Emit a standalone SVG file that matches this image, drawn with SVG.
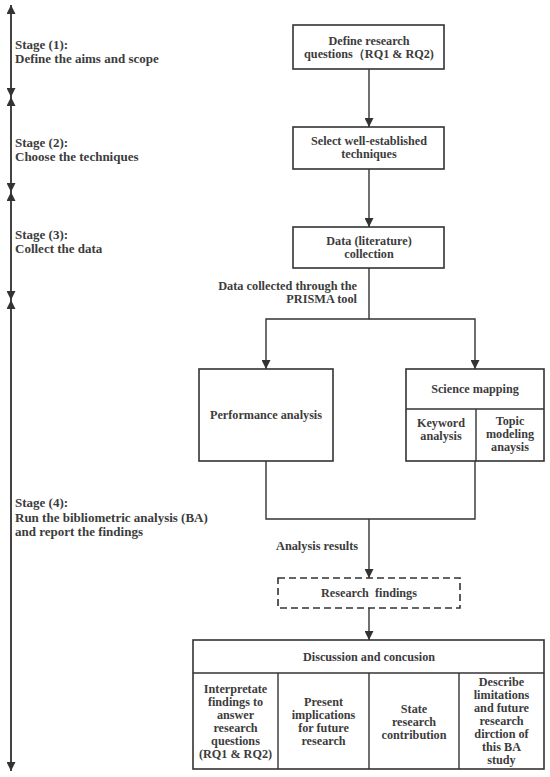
<svg xmlns="http://www.w3.org/2000/svg" width="550" height="777" viewBox="0 0 550 777">
<defs>
<marker id="ah" viewBox="0 0 10 10" refX="10" refY="5" markerWidth="9" markerHeight="9" markerUnits="userSpaceOnUse" orient="auto-start-reverse">
<path d="M0,0 L10,5 L0,10 Z" fill="#333"/>
</marker>
</defs>
<style>
text{font-family:"Liberation Serif","Times New Roman",serif;font-weight:bold;fill:#3c3c3c}
.s{font-size:13px}
.n{font-size:12.2px;text-anchor:middle}
.l{font-size:12.3px}
.b{fill:#fff;stroke:#333;stroke-width:1.6}
.c{fill:none;stroke:#333;stroke-width:1.4}
</style>
<rect width="550" height="777" fill="#fff"/>
<g id="connectors">
<line class="c" x1="11" y1="97" x2="11" y2="5" marker-end="url(#ah)"/>
<line class="c" x1="11" y1="5" x2="11" y2="97" marker-end="url(#ah)"/>
<line class="c" x1="11" y1="192" x2="11" y2="97" marker-end="url(#ah)"/>
<line class="c" x1="11" y1="97" x2="11" y2="192" marker-end="url(#ah)"/>
<line class="c" x1="11" y1="300" x2="11" y2="192" marker-end="url(#ah)"/>
<line class="c" x1="11" y1="192" x2="11" y2="300" marker-end="url(#ah)"/>
<line class="c" x1="11" y1="771" x2="11" y2="300" marker-end="url(#ah)"/>
<line class="c" x1="11" y1="300" x2="11" y2="771" marker-end="url(#ah)"/>
<line class="c" x1="369" y1="69" x2="369" y2="127" marker-end="url(#ah)"/>
<line class="c" x1="369" y1="169" x2="369" y2="227" marker-end="url(#ah)"/>
<polyline class="c" points="369,268 369,319 266,319 266,369" marker-end="url(#ah)"/>
<polyline class="c" points="369,319 475,319 475,369" marker-end="url(#ah)"/>
<polyline class="c" points="266,461 266,519 475,519 475,461"/>
<line class="c" x1="369" y1="519" x2="369" y2="578" marker-end="url(#ah)"/>
<line class="c" x1="369" y1="608" x2="369" y2="640" marker-end="url(#ah)"/>
</g>
<g id="stage-labels">
<text class="s" x="15" y="49">Stage (1):</text>
<text class="s" x="15" y="63">Define the aims and scope</text>
<text class="s" x="15" y="147">Stage (2):</text>
<text class="s" x="15" y="161">Choose the techniques</text>
<text class="s" x="15" y="239">Stage (3):</text>
<text class="s" x="15" y="253">Collect the data</text>
<text class="s" x="15" y="507">Stage (4):</text>
<text class="s" x="15" y="522">Run the bibliometric analysis (BA)</text>
<text class="s" x="15" y="536">and report the findings</text>
</g>
<g id="edge-labels">
<text class="l" x="357" y="290" text-anchor="end">Data collected through the</text>
<text class="l" x="357" y="303" text-anchor="end">PRISMA tool</text>
<text class="l" x="276" y="550">Analysis results</text>
</g>
<g id="n1">
<rect class="b" x="293" y="25" width="151" height="44"/>
<text class="n" x="369" y="45">Define research</text>
<text class="n" x="369" y="58">questions（RQ1 &amp; RQ2)</text>
</g>
<g id="n2">
<rect class="b" x="293" y="127" width="151" height="42"/>
<text class="n" x="369" y="145">Select well-established</text>
<text class="n" x="369" y="158">techniques</text>
</g>
<g id="n3">
<rect class="b" x="293" y="227" width="151" height="41"/>
<text class="n" x="369" y="245">Data (literature)</text>
<text class="n" x="369" y="258">collection</text>
</g>
<g id="n4">
<rect class="b" x="199" y="369" width="134" height="92"/>
<text class="n" x="266" y="419">Performance analysis</text>
</g>
<g id="n5">
<rect class="b" x="406" y="369" width="138" height="92"/>
<line class="c" x1="406" y1="409" x2="544" y2="409"/>
<line class="c" x1="476" y1="409" x2="476" y2="461"/>
<text class="n" x="475" y="393">Science mapping</text>
<text class="n" x="441" y="427">Keyword</text>
<text class="n" x="441" y="440">analysis</text>
<text class="n" x="510" y="425">Topic</text>
<text class="n" x="510" y="438">modeling</text>
<text class="n" x="510" y="451">anaysis</text>
</g>
<g id="n6">
<rect x="278" y="578" width="182" height="30" fill="#fff" stroke="#333" stroke-width="1.6" stroke-dasharray="7,4"/>
<text class="n" x="369" y="597" style="white-space:pre">Research  findings</text>
</g>
<g id="n7">
<rect class="b" x="193" y="640" width="351" height="129"/>
<line class="c" x1="193" y1="673" x2="544" y2="673"/>
<line class="c" x1="278" y1="673" x2="278" y2="769"/>
<line class="c" x1="369" y1="673" x2="369" y2="769"/>
<line class="c" x1="459" y1="673" x2="459" y2="769"/>
<text class="n" x="369" y="661">Discussion and concusion</text>
<text class="n" x="235.5" y="693">Interpretate</text>
<text class="n" x="235.5" y="706">findings to</text>
<text class="n" x="235.5" y="719">answer</text>
<text class="n" x="235.5" y="732">research</text>
<text class="n" x="235.5" y="745">questions</text>
<text class="n" x="235.5" y="758">(RQ1 &amp; RQ2)</text>
<text class="n" x="323.5" y="706">Present</text>
<text class="n" x="323.5" y="719">implications</text>
<text class="n" x="323.5" y="732">for future</text>
<text class="n" x="323.5" y="745">research</text>
<text class="n" x="414" y="713">State</text>
<text class="n" x="414" y="726">research</text>
<text class="n" x="414" y="739">contribution</text>
<text class="n" x="501.5" y="686">Describe</text>
<text class="n" x="501.5" y="699">limitations</text>
<text class="n" x="501.5" y="712">and future</text>
<text class="n" x="501.5" y="725">research</text>
<text class="n" x="501.5" y="738">dirction of</text>
<text class="n" x="501.5" y="751">this BA</text>
<text class="n" x="501.5" y="764">study</text>
</g>
</svg>
